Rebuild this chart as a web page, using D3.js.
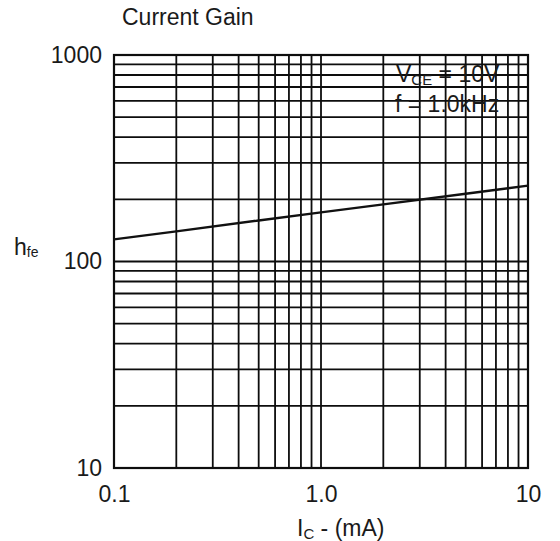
<!DOCTYPE html>
<html>
<head>
<meta charset="utf-8">
<script src="https://cdn.jsdelivr.net/npm/d3@7"></script>
<style>
  html, body { margin: 0; padding: 0; background: #fff; }
  svg { display: block; font-family: "Liberation Sans", Arial, sans-serif; }
</style>
</head>
<body>
<svg id="chart" width="560" height="541"></svg>
<script>
// Data
const icValues  = [0.1, 0.2, 0.5, 1.0, 2.0, 5.0, 10];   // I_C (mA)
const hfeValues = [128, 140, 158, 173, 189, 213, 233];  // h_fe
const xTickValues = [0.1, 1, 10];
const xTickLabels = ["0.1", "1.0", "10"];
const yTickValues = [10, 100, 1000];
const yTickLabels = ["10", "100", "1000"];
const titleText = "Current Gain";
const noteLines = [["V", "CE", " = 10V"], ["f = 1.0kHz", "", ""]];

const svg = d3.select("#chart");
const m = { left: 114, right: 528, top: 55, bottom: 468 };

const x = d3.scaleLog().domain([0.1, 10]).range([m.left, m.right]);
const y = d3.scaleLog().domain([10, 1000]).range([m.bottom, m.top]);

const ink = "#1a1a1a";
const fs = 23;

// Grid
const g = svg.append("g");
g.selectAll("line.vx").data(x.ticks()).enter().append("line")
  .attr("x1", d => x(d)).attr("x2", d => x(d))
  .attr("y1", m.top).attr("y2", m.bottom)
  .attr("stroke", "#0d0d0d").attr("stroke-width", 1.8);
g.selectAll("line.hy").data(y.ticks()).enter().append("line")
  .attr("y1", d => y(d)).attr("y2", d => y(d))
  .attr("x1", m.left).attr("x2", m.right)
  .attr("stroke", "#0d0d0d").attr("stroke-width", 1.8);
// Frame
g.append("rect").attr("x", m.left).attr("y", m.top)
  .attr("width", m.right - m.left).attr("height", m.bottom - m.top)
  .attr("fill", "none").attr("stroke", "#0d0d0d").attr("stroke-width", 2.2);

// Curve
const line = d3.line().x((d, i) => x(icValues[i])).y(d => y(d));
svg.append("path").datum(hfeValues)
  .attr("d", line)
  .attr("fill", "none").attr("stroke", "#111").attr("stroke-width", 2.4);

// Axes (labels only)
const xAxis = d3.axisBottom(x).tickValues(xTickValues)
  .tickFormat((d, i) => xTickLabels[i]).tickSize(0).tickPadding(18);
const xa = svg.append("g").attr("transform", `translate(0,${m.bottom})`).call(xAxis);
xa.select(".domain").remove();
xa.selectAll("text").attr("font-size", fs).attr("fill", ink)
  .attr("font-family", "Liberation Sans, Arial, sans-serif");

const yAxis = d3.axisLeft(y).tickValues(yTickValues)
  .tickFormat((d, i) => yTickLabels[i]).tickSize(0).tickPadding(12);
const ya = svg.append("g").attr("transform", `translate(${m.left},0)`).call(yAxis);
ya.select(".domain").remove();
ya.selectAll("text").attr("font-size", fs).attr("fill", ink)
  .attr("font-family", "Liberation Sans, Arial, sans-serif");

// Title
svg.append("text").attr("x", 122).attr("y", 25)
  .attr("font-size", fs).attr("fill", ink).text(titleText);

// y-axis title h_fe
const hy = svg.append("text").attr("x", 14).attr("y", 255)
  .attr("font-size", fs).attr("fill", ink);
hy.append("tspan").text("h");
hy.append("tspan").attr("font-size", 14).attr("dy", 2).text("fe");

// x-axis title I_C - (mA)
const xt = svg.append("text").attr("x", 297).attr("y", 536)
  .attr("font-size", fs).attr("fill", ink);
xt.append("tspan").text("I");
xt.append("tspan").attr("font-size", 15).attr("dy", 3).text("C");
xt.append("tspan").attr("dy", -3).text(" - (mA)");

// Condition note
const n1 = svg.append("text").attr("x", 396).attr("y", 82)
  .attr("font-size", fs).attr("fill", ink);
n1.append("tspan").text(noteLines[0][0]);
n1.append("tspan").attr("font-size", 15).attr("dy", 3).text(noteLines[0][1]);
n1.append("tspan").attr("dy", -3).text(noteLines[0][2]);
svg.append("text").attr("x", 395).attr("y", 112)
  .attr("font-size", fs).attr("fill", ink).text(noteLines[1][0]);
</script>
</body>
</html>
